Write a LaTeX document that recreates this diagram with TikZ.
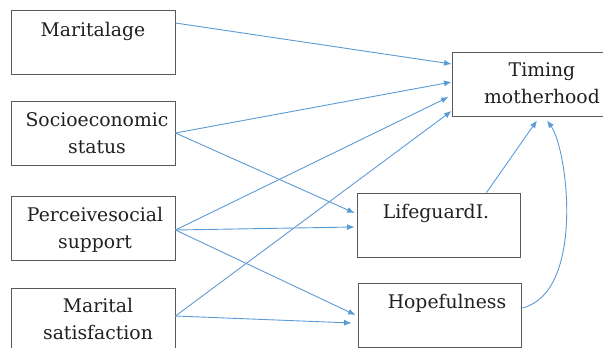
\documentclass[tikz,border=0pt]{standalone}
\usepackage{fontspec}
\setmainfont{DejaVu Serif}
\usetikzlibrary{arrows.meta}
\definecolor{arrowblue}{HTML}{5B9BD5}
\definecolor{boxgray}{HTML}{595959}
\definecolor{txt}{HTML}{231F20}
\begin{document}
\begin{tikzpicture}[x=1pt,y=-1pt,
  box/.style={draw=boxgray,line width=0.9pt,minimum width=164pt,minimum height=64pt,inner sep=0pt},
  lbl/.style={inner sep=0pt,anchor=north,align=center,text=txt,font=\fontsize{18.8}{27}\selectfont},
  conn/.style={draw=arrowblue,line width=0.9pt,-{Latex[length=7.5pt,width=6pt]}}]
\useasboundingbox (0,0) rectangle (603,348);
% boxes
\node[box] (ma) at (93,42) {};
\node[box] (se) at (93,133) {};
\node[box] (ps) at (93,228) {};
\node[box] (ms) at (93,320) {};
\node[box,minimum width=180pt] (tm) at (542,84) {};
\node[box,minimum width=163pt] (lg) at (438.5,225) {};
\node[box,minimum width=163pt] (hp) at (439.5,315) {};
% labels
\node[lbl] (maT) at (93,22) {Maritalage};
\node[lbl] (seT) at (97,112) {Socioeconomic\\status};
\node[lbl] (psT) at (95,207) {Perceivesocial\\support};
\node[lbl] (msT) at (98,298) {Marital\\satisfaction};
\node[lbl] (tmT) at (542,62) {Timing\\motherhood};
\node[lbl] (lgT) at (436,204) {LifeguardI.};
\node[lbl] (hpT) at (447,294) {Hopefulness};
% connectors
\draw[conn] ([yshift=19pt]ma.east) -- ([yshift=20pt]tm.west);
\draw[conn] (se.east) -- ([yshift=2pt]tm.west);
\draw[conn] (se.east) -- ([xshift=-2pt,yshift=12pt]lg.west);
\draw[conn] ([yshift=-2pt]ps.east) -- ([xshift=-3pt,yshift=-13pt]tm.west);
\draw[conn] ([yshift=-2pt]ps.east) -- ([xshift=-2pt,yshift=-2pt]lg.west);
\draw[conn] ([yshift=-2pt]ps.east) -- ([xshift=-2pt]hp.west);
\draw[conn] ([yshift=4pt]ms.east) -- ([yshift=-27pt]tm.west);
\draw[conn] ([yshift=4pt]ms.east) -- ([xshift=-6pt,yshift=-8pt]hp.west);
\draw[conn] ([xshift=48pt]lg.north) -- ([xshift=-5pt,yshift=-4pt]tm.south);
\draw[conn] ([xshift=1pt,yshift=7pt]hp.east) .. controls (585,292) and (568,150) .. ([xshift=5pt,yshift=-4pt]tm.south);
\end{tikzpicture}
\end{document}
